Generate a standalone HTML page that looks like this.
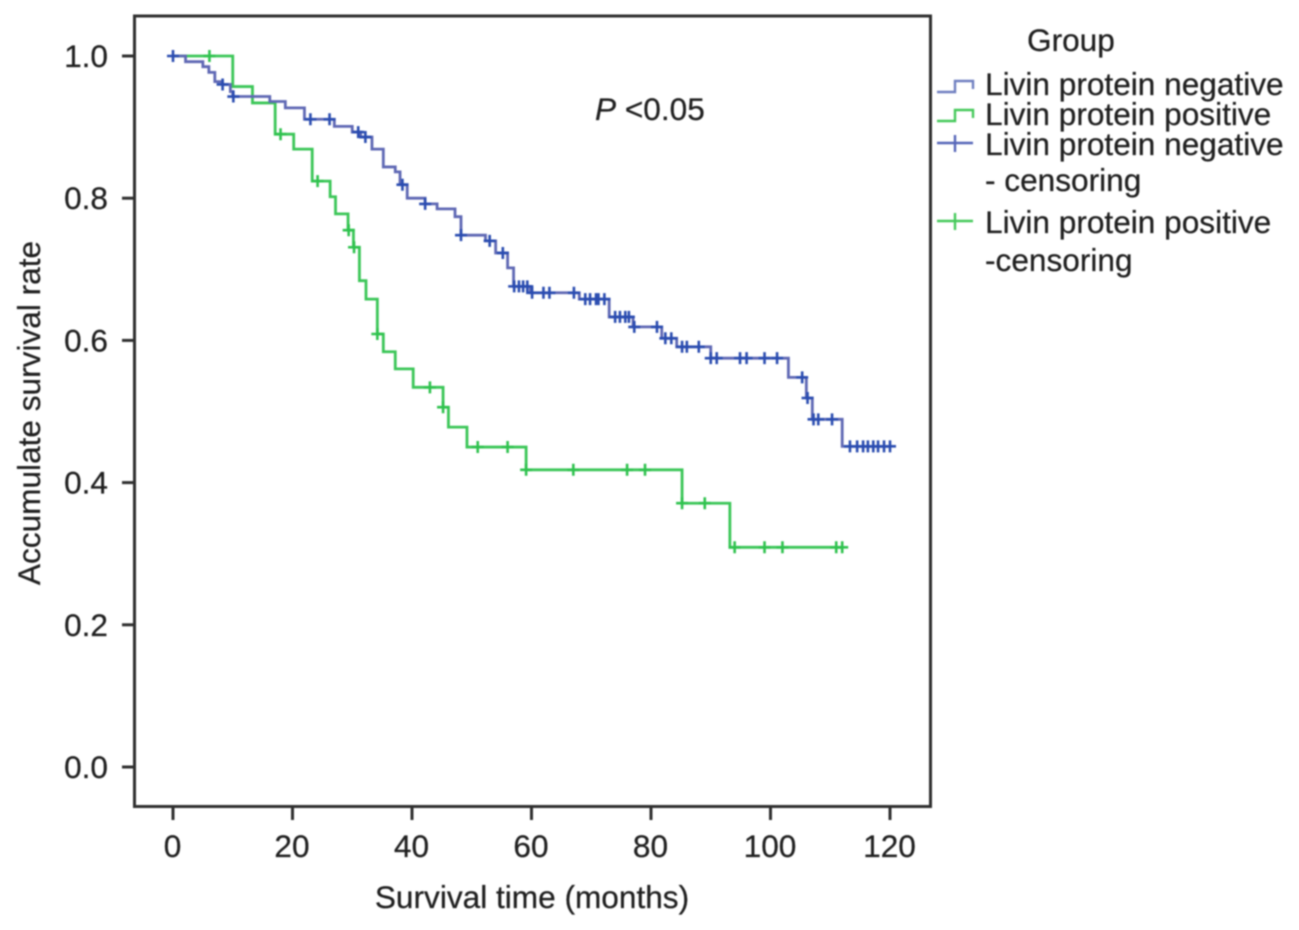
<!DOCTYPE html>
<html>
<head>
<meta charset="utf-8">
<title>Kaplan-Meier survival curves by Livin protein group</title>
<style>
  html, body { margin: 0; padding: 0; background: #fff; }
  body { width: 1299px; height: 930px; overflow: hidden; }
  svg { display: block; filter: blur(0.75px); }
  text { font-family: "Liberation Sans", sans-serif; fill: #1f1f1f; font-size: 31.6px; stroke: #1f1f1f; stroke-width: 0.25px; }
</style>
</head>
<body>
<svg id="chart" width="1299" height="930" viewBox="0 0 1299 930" xmlns="http://www.w3.org/2000/svg">
  <rect x="134.5" y="16" width="796" height="790.5" fill="#fff" stroke="#2f2f2f" stroke-width="3"/>
  <g id="axes"></g>
  <g id="series"></g>
  <text x="595" y="120"><tspan font-style="italic">P</tspan> &lt;0.05</text>
  <text x="532" y="908" text-anchor="middle">Survival time (months)</text>
  <text transform="translate(40,413) rotate(-90)" text-anchor="middle">Accumulate survival rate</text>
  <g>
    <text x="1027" y="51">Group</text>
    <path d="M937 92H955V81H973V89" fill="none" stroke="#6f7fc0" stroke-width="2.4"/>
    <text x="985" y="95">Livin protein negative</text>
    <path d="M937 121H955V110H973V118" fill="none" stroke="#45c95a" stroke-width="2.4"/>
    <text x="985" y="125">Livin protein positive</text>
    <path d="M937 143H973M955 135V152" fill="none" stroke="#5565b8" stroke-width="2.4"/>
    <text x="985" y="155">Livin protein negative</text>
    <text x="985" y="191">- censoring</text>
    <path d="M937 221H973M955 213V230" fill="none" stroke="#45c95a" stroke-width="2.4"/>
    <text x="985" y="233">Livin protein positive</text>
    <text x="985" y="271">-censoring</text>
  </g>
</svg>
<script>
const xTicks = [0, 20, 40, 60, 80, 100, 120];
const yTicks = [0.0, 0.2, 0.4, 0.6, 0.8, 1.0];
const negativeMonths = [0, 2.1, 5, 6, 7, 8.3, 9.6, 10, 16.2, 18.8, 22, 27, 30, 31.4, 33.3, 35.2, 37.2, 38, 39.2, 42.2, 44.2, 47.2, 48.2, 52.3, 54, 56, 57, 59.8, 68, 73, 77, 81.8, 84.3, 90, 103, 106, 107, 112];
const negativeSurvival = [1.0, 0.992, 0.985, 0.977, 0.964, 0.96, 0.95, 0.943, 0.936, 0.927, 0.911, 0.901, 0.893, 0.886, 0.869, 0.844, 0.837, 0.819, 0.80, 0.792, 0.785, 0.774, 0.748, 0.74, 0.723, 0.702, 0.676, 0.667, 0.658, 0.633, 0.619, 0.603, 0.591, 0.575, 0.548, 0.519, 0.489, 0.451];
const negativeCensored = [0, 8.3, 10.1, 23, 26.2, 31, 32.2, 38.4, 42.2, 48.2, 53, 55.2, 57.1, 57.9, 58.6, 59.3, 60.1, 62, 63, 67.1, 69, 69.8, 70.8, 71.2, 72.2, 74, 74.8, 75.7, 76.3, 77.2, 81, 82.4, 83.4, 85.2, 86, 88, 90, 91, 94.9, 96, 99, 101.1, 105.3, 106.2, 107.2, 108, 110.3, 113.3, 114.5, 115.5, 116.3, 117.2, 118, 119, 120];
const positiveMonths = [0, 10, 13.3, 17.1, 20.2, 23.3, 26.3, 27.2, 29.3, 30.2, 31.2, 32.3, 34.2, 35.2, 37.2, 40.2, 45.2, 46.1, 49.2, 59.1, 85.2, 93.2];
const positiveSurvival = [1.0, 0.957, 0.934, 0.89, 0.869, 0.824, 0.802, 0.778, 0.755, 0.731, 0.684, 0.658, 0.609, 0.584, 0.56, 0.534, 0.506, 0.478, 0.45, 0.418, 0.371, 0.309];
const positiveCensored = [6.1, 18, 24.2, 29.4, 30.3, 34.2, 43, 45.2, 51, 56, 59.1, 67, 76, 79, 85.2, 89, 94, 99, 102, 111, 112];
const negativeEnd = 120;
const positiveEnd = 112;

const NS = 'http://www.w3.org/2000/svg';
function xScale(m) { return 173 + m * 5.975; }
function yScale(s) { return 767 - s * 711; }
function survivalAt(months, survival, t) {
  let v = survival[0];
  for (let i = 0; i < months.length; i++) { if (months[i] <= t) v = survival[i]; }
  return v;
}
function stepPath(months, survival, end) {
  let d = 'M' + xScale(months[0]) + ' ' + yScale(survival[0]);
  for (let i = 1; i < months.length; i++) {
    d += 'H' + xScale(months[i]) + 'V' + yScale(survival[i]);
  }
  return d + 'H' + xScale(end);
}
const axes = document.getElementById('axes');
const series = document.getElementById('series');

xTicks.forEach(function (t) {
  const tick = document.createElementNS(NS, 'line');
  tick.setAttribute('x1', xScale(t));
  tick.setAttribute('x2', xScale(t));
  tick.setAttribute('y1', 806);
  tick.setAttribute('y2', 820);
  tick.setAttribute('stroke', '#2f2f2f');
  tick.setAttribute('stroke-width', '3');
  
  
  axes.appendChild(tick);
  const label = document.createElementNS(NS, 'text');
  label.setAttribute('x', xScale(t) - 0.5);
  label.setAttribute('y', 857);
  label.setAttribute('text-anchor', 'middle');
  label.textContent = String(t);
  
  
  axes.appendChild(label);
});

yTicks.forEach(function (t) {
  const tick = document.createElementNS(NS, 'line');
  tick.setAttribute('x1', 122);
  tick.setAttribute('x2', 135);
  tick.setAttribute('y1', yScale(t));
  tick.setAttribute('y2', yScale(t));
  tick.setAttribute('stroke', '#2f2f2f');
  tick.setAttribute('stroke-width', '3');
  
  
  axes.appendChild(tick);
  const label = document.createElementNS(NS, 'text');
  label.setAttribute('x', 108);
  label.setAttribute('y', yScale(t) + 11);
  label.setAttribute('text-anchor', 'end');
  label.textContent = t.toFixed(1);
  
  
  axes.appendChild(label);
});

const positiveLine = document.createElementNS(NS, 'path');
positiveLine.setAttribute('d', stepPath(positiveMonths, positiveSurvival, positiveEnd));
positiveLine.setAttribute('fill', 'none');
positiveLine.setAttribute('stroke', '#3cc658');
positiveLine.setAttribute('stroke-width', '2.8');


series.appendChild(positiveLine);

const negativeLine = document.createElementNS(NS, 'path');
negativeLine.setAttribute('d', stepPath(negativeMonths, negativeSurvival, negativeEnd));
negativeLine.setAttribute('fill', 'none');
negativeLine.setAttribute('stroke', '#5f68b4');
negativeLine.setAttribute('stroke-width', '2.8');


series.appendChild(negativeLine);

positiveCensored.forEach(function (t) {
  const cx = xScale(t);
  const cy = yScale(survivalAt(positiveMonths, positiveSurvival, t));
  const mark = document.createElementNS(NS, 'path');
  mark.setAttribute('d', 'M' + (cx - 6) + ' ' + cy + 'H' + (cx + 6) + 'M' + cx + ' ' + (cy - 6) + 'V' + (cy + 6));
  mark.setAttribute('fill', 'none');
  mark.setAttribute('stroke', '#2fc24e');
  mark.setAttribute('stroke-width', '2.6');
  
  
  series.appendChild(mark);
});

negativeCensored.forEach(function (t) {
  const cx = xScale(t);
  const cy = yScale(survivalAt(negativeMonths, negativeSurvival, t));
  const mark = document.createElementNS(NS, 'path');
  mark.setAttribute('d', 'M' + (cx - 6) + ' ' + cy + 'H' + (cx + 6) + 'M' + cx + ' ' + (cy - 6) + 'V' + (cy + 6));
  mark.setAttribute('fill', 'none');
  mark.setAttribute('stroke', '#2a4cb0');
  mark.setAttribute('stroke-width', '2.6');
  
  
  series.appendChild(mark);
});
</script>
</body>
</html>
